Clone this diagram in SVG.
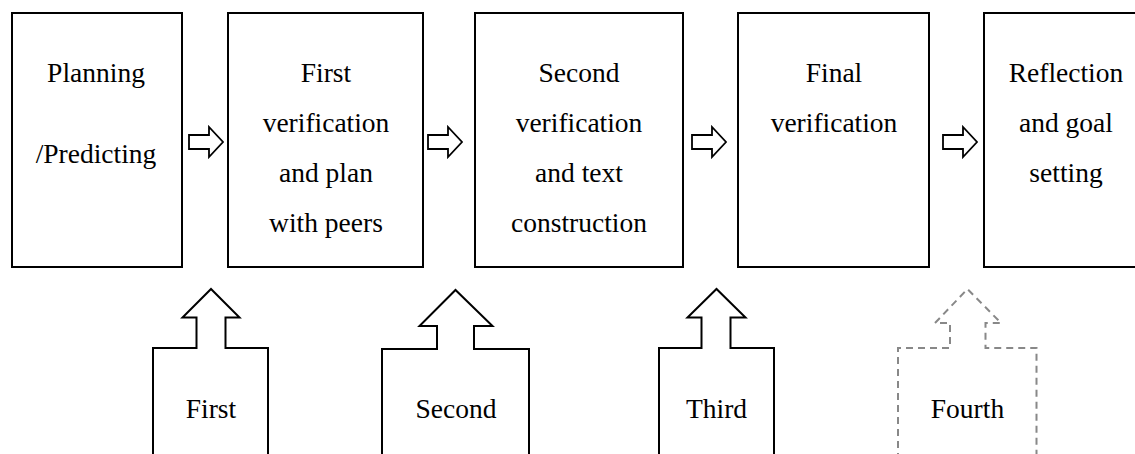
<svg xmlns="http://www.w3.org/2000/svg" width="1135" height="454" viewBox="0 0 1135 454">
<defs>
<style>
.box{fill:#fff;stroke:#000;stroke-width:2}
.arr{fill:#fff;stroke:#000;stroke-width:1.8;stroke-linejoin:miter}
.up{fill:#fff;stroke:#000;stroke-width:2;stroke-linejoin:miter}
.dash{fill:#fff;stroke:#888;stroke-width:2;stroke-dasharray:7,5}
.t{font-family:'Liberation Serif','Times New Roman',serif;font-size:27.5px;fill:#000;text-anchor:middle}
</style>
<path id="rarrow" d="M0,-7 H20 V-15 L34,0 L20,15 V7 H0 Z"/>
</defs>
<rect width="1135" height="454" fill="#fff"/>
<g id="connectors">
<use href="#rarrow" class="arr" transform="translate(189,142)"/>
<use href="#rarrow" class="arr" transform="translate(428,142)"/>
<use href="#rarrow" class="arr" transform="translate(692,142)"/>
<use href="#rarrow" class="arr" transform="translate(943,142)"/>
</g>
<g id="node-planning">
<rect class="box" x="12" y="13" width="170" height="254"/>
<text class="t" x="96" y="82">Planning</text><text class="t" x="96" y="163">/Predicting</text>
</g>
<g id="node-first-verification">
<rect class="box" x="228" y="13" width="195" height="254"/>
<text class="t" x="326" y="82">First</text><text class="t" x="326" y="132">verification</text><text class="t" x="326" y="182">and plan</text><text class="t" x="326" y="232">with peers</text>
</g>
<g id="node-second-verification">
<rect class="box" x="475" y="13" width="208" height="254"/>
<text class="t" x="579" y="82">Second</text><text class="t" x="579" y="132">verification</text><text class="t" x="579" y="182">and text</text><text class="t" x="579" y="232">construction</text>
</g>
<g id="node-final-verification">
<rect class="box" x="738" y="13" width="191" height="254"/>
<text class="t" x="834" y="82">Final</text><text class="t" x="834" y="132">verification</text>
</g>
<g id="node-reflection">
<rect class="box" x="984" y="13" width="164" height="254"/>
<text class="t" x="1066" y="82">Reflection</text><text class="t" x="1066" y="132">and goal</text><text class="t" x="1066" y="182">setting</text>
</g>
<g id="node-first">
<path class="up" d="M153,460 V348 H196.5 V317.5 H182.5 L211,289 L239.5,317.5 H225.5 V348 H268 V460"/>
<text class="t" x="211" y="418">First</text>
</g>
<g id="node-second">
<path class="up" d="M382,460 V349 H437 V326 H419.5 L455.5,290 L492.5,326 H474 V349 H529 V460"/>
<text class="t" x="456" y="418">Second</text>
</g>
<g id="node-third">
<path class="up" d="M659,460 V348 H701.5 V317.5 H687.5 L716.5,289 L745.5,317.5 H730.5 V348 H774 V460"/>
<text class="t" x="716.5" y="418">Third</text>
</g>
<g id="node-fourth">
<path class="dash" d="M898,460 V348 H950 V323 H935 L967.5,289 L1001,323 H985.5 V348 H1036.5 V460"/>
<text class="t" x="967.5" y="418">Fourth</text>
</g>
</svg>
